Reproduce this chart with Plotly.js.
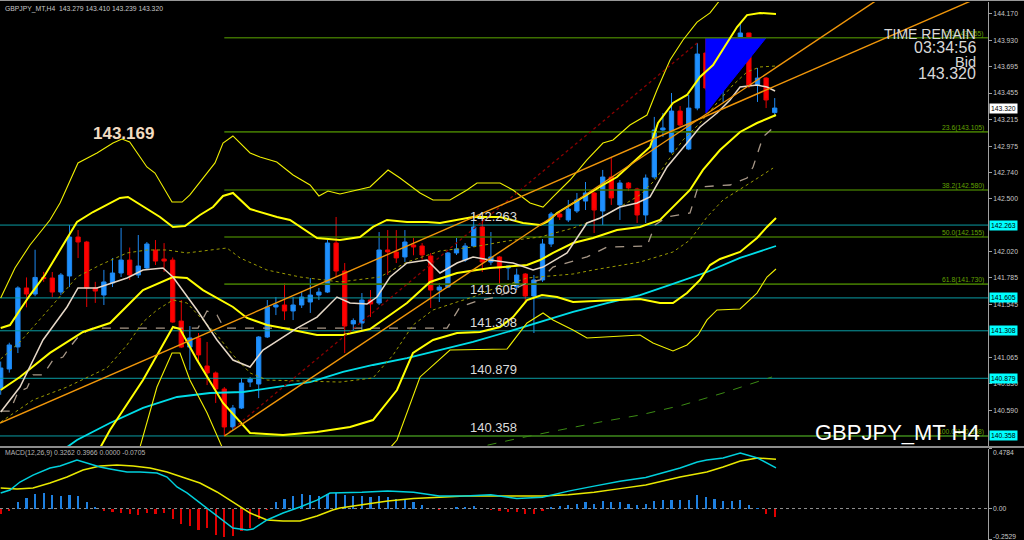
<!DOCTYPE html>
<html><head><meta charset="utf-8">
<script src="https://cdn.plot.ly/plotly-3.0.1.min.js"></script>
<style>html,body{margin:0;padding:0;background:#000;}#chart{width:1024px;height:540px;}</style>
</head><body><div id="chart"></div>
<script>
// ---------- candles (H4 bars, index 0..90) ----------
const candleIdx = [0,1,2,3,4,5,6,7,8,9,10,11,12,13,14,15,16,17,18,19,20,21,22,23,24,25,26,27,28,29,30,31,32,33,34,35,36,37,38,39,40,41,42,43,44,45,46,47,48,49,50,51,52,53,54,55,56,57,58,59,60,61,62,63,64,65,66,67,68,69,70,71,72,73,74,75,76,77,78,79,80,81,82,83,84,85,86,87,88,89,90];
const openP = [140.791,140.963,141.162,141.695,141.640,141.790,141.785,141.658,141.803,142.155,
142.110,141.695,141.631,141.740,141.830,141.947,141.812,141.875,142.038,141.956,
141.947,141.396,141.161,141.243,140.990,140.927,140.782,140.439,140.610,140.845,
140.827,141.252,141.523,141.541,141.487,141.541,141.568,141.631,141.658,142.101,
141.848,141.370,141.378,141.586,141.559,142.038,142.020,141.975,142.083,142.074,
141.984,141.676,141.703,142.011,141.947,142.074,142.246,141.929,141.975,141.875,
141.703,141.821,141.622,141.767,142.092,142.363,142.309,142.390,142.480,142.553,
142.390,142.697,142.445,142.643,142.589,142.354,142.697,143.122,142.923,143.293,
142.950,143.320,143.817,143.510,143.546,143.637,143.872,143.998,143.528,143.591,
143.279];
const highP = [141.030,141.200,141.710,141.790,142.040,141.840,141.839,141.830,142.263,142.218,
142.120,141.750,141.858,141.966,142.237,142.060,142.173,142.110,142.128,142.100,
141.970,141.586,141.351,141.288,141.207,140.940,140.800,140.638,140.880,140.890,
141.260,141.586,141.613,141.740,141.613,141.660,141.785,141.695,142.128,142.336,
141.920,141.420,141.649,141.676,142.200,142.218,142.218,142.218,142.146,142.100,
142.010,141.740,142.020,142.146,142.100,142.381,142.309,142.200,141.984,141.900,
141.870,141.830,141.812,142.137,142.381,142.390,142.490,142.553,142.652,142.562,
142.761,142.869,142.670,142.652,142.600,142.720,143.240,143.275,143.456,143.338,
143.438,143.908,143.955,143.637,143.700,143.890,144.088,144.000,143.682,143.600,
143.410];
const lowP = [140.730,140.930,141.107,141.520,141.620,141.750,141.613,141.630,141.703,141.965,
141.523,141.560,141.541,141.703,141.794,141.767,141.785,141.857,141.902,141.840,
141.380,141.152,140.954,141.017,140.818,140.656,140.358,140.410,140.601,140.800,
140.700,141.243,141.450,141.405,141.405,141.514,141.469,141.586,141.649,141.794,
141.107,141.315,141.315,141.432,141.541,141.812,141.920,141.930,141.990,141.950,
141.514,141.568,141.694,141.993,141.930,142.065,141.839,141.900,141.703,141.767,
141.676,141.568,141.288,141.750,142.065,142.309,142.290,142.372,142.399,142.191,
142.264,142.445,142.309,142.570,142.282,142.282,142.680,143.059,142.910,143.140,
142.940,143.300,143.480,143.410,143.375,143.620,143.850,143.500,143.375,143.320,
143.239];
const closeP = [140.972,141.180,141.695,141.640,141.790,141.780,141.658,141.812,142.155,142.110,
141.695,141.667,141.749,141.830,141.947,141.812,141.893,142.092,141.938,141.938,
141.387,141.161,141.243,141.090,140.927,140.782,140.439,140.610,140.836,140.872,
141.252,141.523,141.541,141.487,141.541,141.613,141.631,141.658,142.101,141.848,
141.351,141.400,141.586,141.550,142.038,142.020,141.966,142.110,142.065,141.993,
141.676,141.703,142.011,142.047,142.074,142.246,141.929,141.975,141.875,141.893,
141.812,141.622,141.767,142.092,142.363,142.336,142.408,142.490,142.553,142.399,
142.697,142.508,142.643,142.598,142.354,142.688,143.122,143.140,143.293,143.167,
143.320,143.808,143.501,143.492,143.646,143.872,143.998,143.528,143.591,143.393,
143.320];

// ---------- Bollinger bands ----------
const bbUp3X = [0,0.85,1.66,3.41,5.73,6.90,8.99,11.2,13.06,14.1,15.0,17.0,17.94,19.92,21.1,22.0,24.92,25.85,27.0,29.0,30.15,32.1,34.0,35.97,37.0,38.06,39.45,42.94,45.04,46.43,48.76,50.27,52.24,54.22,55.38,58.06,59.57,61.55,63.06,64.22,66.2,68.17,70.03,71.2,73.17,75.15,76.31,77.83,79.34,80.97,82.48,83.64,86.5,90.15];
const bbUp3Y = [141.604,141.740,141.875,142.083,142.309,142.462,142.824,142.914,143.004,143.040,143.013,142.788,142.733,142.471,142.471,142.535,142.824,143.004,143.068,142.914,142.878,142.833,142.715,142.625,142.526,142.571,142.544,142.607,142.760,142.688,142.553,142.489,142.489,142.580,142.643,142.643,142.580,142.462,142.426,142.517,142.670,142.851,143.004,143.032,143.167,143.257,143.483,143.754,143.935,144.097,144.179,144.296,144.495,144.657];
const bbUp2X = [0,1.08,2.24,3.41,5.15,6.9,8.87,10.73,13.87,14.8,17.0,18.52,20.03,21.43,23.17,24.69,25.85,27.01,29.0,30.5,32.13,33.64,35.38,36.78,39.45,41.78,43.29,44.92,47.24,49.57,51.08,53.06,54.92,58.06,59.57,60.73,62.71,63.52,64.69,66.55,68.52,70.03,71.66,73.52,75.5,76.43,78.17,79.8,81.31,82.83,84.45,85.62,86.78,88.29,90.15];
const bbUp2Y = [141.333,141.360,141.496,141.631,141.812,142.038,142.291,142.381,142.508,142.517,142.408,142.336,142.246,142.255,142.354,142.426,142.526,142.553,142.408,142.372,142.336,142.309,142.218,142.146,142.128,142.155,142.246,142.309,142.291,142.291,142.282,142.309,142.336,142.336,142.309,142.282,142.264,142.291,142.372,142.462,142.553,142.625,142.697,142.824,142.968,143.185,143.366,143.438,143.601,143.709,143.908,144.052,144.160,144.179,144.170];
const bbUp1X = [0,2.24,5.73,8.87,11.55,14.69,17.0,19.34,21.66,26.31,27.83,30.97,34.8,39.45,44.1,47.24,51.08,54.92,58.87,62.71,66.55,69.7,72.0,74.33,76.08,77.48,79.34,81.31,83.29,85.15,86.78,88.29,90.15];
const bbUp1Y = [141.053,141.207,141.514,141.794,141.902,142.011,142.038,142.038,142.011,142.056,141.966,141.857,141.794,141.749,141.794,141.929,142.029,142.065,142.119,142.155,142.236,142.327,142.426,142.535,142.670,142.833,143.032,143.185,143.366,143.528,143.646,143.691,143.700];
const bbMidX = [0,2.24,5.73,9.57,12.71,16.55,20.03,21.66,23.52,27.01,28.64,30.97,32.83,36.78,39.8,42.94,45.27,47.24,49.92,53.06,56.9,61.2,62.71,64.22,66.55,68.87,71.66,74.34,76.66,79.0,80.15,81.66,83.64,85.97,87.94,90.15];
const bbMidY = [140.773,140.891,141.108,141.297,141.378,141.676,141.794,141.785,141.676,141.523,141.424,141.361,141.333,141.270,141.270,141.324,141.451,141.559,141.749,141.830,141.875,141.902,141.947,142.011,142.101,142.146,142.218,142.246,142.309,142.489,142.580,142.761,142.941,143.104,143.185,143.257];
const bbLow1X = [0,3.76,7.71,12.36,14.69,16.55,18.17,20.03,21.66,23.17,25.15,27.01,29.0,30.97,34.8,39.45,43.29,45.62,47.94,50.27,53.06,54.92,56.9,58.87,61.2,63.52,66.55,68.87,71.66,74.34,78.17,80.15,82.13,83.99,87.13,89.81];
const bbLow1Y = [140.484,140.683,140.800,140.972,141.180,141.387,141.496,141.586,141.559,141.432,141.270,141.089,140.927,140.863,140.854,140.845,140.882,141.089,141.360,141.496,141.568,141.613,141.676,141.722,141.785,141.803,141.821,141.857,141.893,141.929,142.020,142.128,142.336,142.490,142.643,142.778];
const bbLow2X = [0,5.73,11.55,12.71,16.55,20.03,20.85,22.83,25.85,29.0,32.83,36.78,40.62,43.29,46.08,47.94,50.27,53.06,55.73,58.06,59.57,61.2,62.94,64.69,66.55,71.2,74.34,76.66,78.17,79.8,81.31,82.48,83.64,85.97,87.94,89.1,90.15];
const bbLow2Y = [140.186,140.005,140.249,140.412,140.864,141.342,141.324,141.044,140.656,140.385,140.367,140.394,140.439,140.502,140.773,141.108,141.225,141.288,141.297,141.342,141.432,141.586,141.631,141.613,141.568,141.586,141.595,141.559,141.559,141.649,141.767,141.902,141.957,142.020,142.146,142.246,142.327];
const bbLow3X = [0,6.9,12.71,16.2,18.17,19.92,20.85,22.0,23.99,25.74,27.83,34.8,39.45,43.29,46.08,48.76,52.24,58.87,61.2,63.06,64.22,66.55,68.17,70.5,74.34,75.85,78.17,79.8,81.08,82.13,83.29,85.97,87.94,89.1,90.15];
const bbLow3Y = [139.915,139.418,139.780,140.258,140.800,141.107,141.107,140.864,140.568,140.258,139.960,139.807,139.987,140.078,140.321,140.891,141.134,141.143,141.378,141.469,141.405,141.315,141.243,141.252,141.270,141.197,141.126,141.180,141.270,141.406,141.496,141.505,141.649,141.794,141.866];

// ---------- moving averages ----------
const maFastX = [0,2.24,4.92,7.71,8.99,11.2,14.69,16.55,18.87,20.03,22.83,25.15,27.01,28.99,30.5,32.83,34.45,36.78,39.1,40.62,42.59,43.76,45.27,47.24,49.57,51.08,53.06,54.92,56.9,59.57,61.9,63.06,65.85,68.17,69.7,72.0,74.0,75.5,77.48,79.8,81.31,83.29,84.8,85.97,87.94,89.1,90.04];
const maFastY = [140.574,140.800,141.225,141.523,141.695,141.695,141.785,141.857,141.875,141.794,141.496,141.225,141.044,140.981,141.134,141.252,141.333,141.432,141.613,141.559,141.550,141.613,141.794,141.920,141.947,141.830,141.920,141.975,141.947,141.920,141.857,141.884,142.011,142.282,142.327,142.426,142.462,142.517,142.788,143.004,143.149,143.275,143.393,143.510,143.528,143.510,143.474];
const kijunX = [0,1.08,2.01,3.06,3.76,4.92,6.08,7.24,8.06,8.99,10.03,10.73,22.94,23.99,25.15,25.97,51.9,52.6,53.4,55.73,57.71,61.2,62.71,64.22,68.17,70.5,75.15,76.08,77.48,80.15,81.08,84.8,86.78,87.48,88.64,89.81];
const kijunY = [140.583,140.583,140.755,140.791,140.909,140.909,141.044,141.071,141.162,141.252,141.306,141.333,141.333,141.487,141.451,141.333,141.333,141.424,141.523,141.586,141.613,141.740,141.767,141.884,141.975,142.065,142.074,142.264,142.336,142.372,142.607,142.625,142.688,142.788,143.059,143.140];
const maMidX = [6.9,8.87,12.71,16.55,20.5,24.34,28.17,32.13,35.97,39.8,43.29,47.24,51.08,54.92,58.87,62.71,66.55,70.5,74.34,78.17,82.13,85.97,90.15];
const maMidY = [140.213,140.321,140.475,140.611,140.710,140.746,140.755,140.800,140.845,140.936,140.999,141.062,141.134,141.207,141.297,141.387,141.478,141.559,141.631,141.731,141.839,141.966,142.074];
const maLongX = [54.57,60.4,65.03,69.7,74.34,79.34,83.99,89.69];
const maLongY = [140.240,140.340,140.412,140.484,140.547,140.638,140.746,140.891];

// ---------- drawn objects ----------
const trendAX = [-0.08,113.06];  const trendAY = [140.475,144.296];
const trendBX = [26,101.9];      const trendBY = [140.358,144.296];
const redDotX = [26,81];         const redDotY = [140.358,143.908];
const triX = [82,89,82,82];      const triY = [143.955,143.955,143.275,143.955];
const hLevels = [142.263,141.605,141.308,140.879,140.358];
const fibStart = 26;
const fibPct = ['0.0','23.6','38.2','50.0','61.8','100.0'];
const fibLevels = [143.955,143.105,142.580,142.155,141.730,140.358];
const highLabel = ['143.169'];
const priceTicks = [144.170,143.930,143.695,143.455,143.215,142.975,142.740,142.500,142.020,141.785,141.545,141.065,140.830,140.590];
const timeRemain = ['TIME REMAIN','03:34:56','Bid','143.320'];

// ---------- MACD(12,26,9) ----------
const macdHist = [-0.043,-0.016,0.051,0.086,0.118,0.126,0.105,0.097,0.110,0.097,
0.051,0.011,-0.021,-0.029,-0.038,-0.048,-0.056,-0.038,-0.043,-0.038,
-0.083,-0.123,-0.137,-0.172,-0.155,-0.209,-0.231,-0.217,-0.182,-0.155,
-0.083,-0.011,0.051,0.078,0.097,0.113,0.105,0.102,0.118,0.123,
0.11,0.10,0.10,0.09,0.10,0.09,0.08,0.07,0.05,0.03,
0.0,-0.01,0.0,0.01,0.01,0.02,0.0,-0.01,-0.02,-0.03,
-0.03,-0.04,-0.04,-0.02,0.01,0.02,0.03,0.04,0.05,0.04,
0.06,0.05,0.05,0.04,0.03,0.04,0.06,0.07,0.07,
0.070,0.070,0.105,0.091,0.078,0.064,0.064,0.070,0.029,0.003,-0.043,-0.0705];
const macdX = [0,1.08,2.24,3.76,5.73,6.9,8.87,10.0,11.55,12.71,14.69,16.2,18.17,19.34,20.5,21.66,24.0,25.5,27.0,28.64,29.34,30.97,32.83,34.8,36.78,38.29,39.45,42,45,48,51,54,57,60,63,66,69,72,75,79,81,82.1,84,86,88,90.15];
const macdY = [0.125,0.149,0.213,0.269,0.326,0.342,0.390,0.366,0.334,0.318,0.293,0.293,0.285,0.253,0.173,0.125,0.004,-0.076,-0.157,-0.173,-0.165,-0.092,-0.036,0.012,0.068,0.125,0.125,0.13,0.14,0.13,0.10,0.10,0.11,0.08,0.09,0.14,0.18,0.22,0.25,0.326,0.374,0.390,0.406,0.446,0.406,0.3262];
const signalX = [0,1.9,3.76,5.73,7.71,9.57,11.55,13.52,15.4,17.36,19.34,21.2,23.17,25.15,27.0,29.0,30.97,32.83,34.8,36.78,38.6,39.45,42,45,48,51,54,57,60,63,66,69,72,75,79,82.1,84,86,88,90.15];
const signalY = [0.165,0.157,0.165,0.205,0.253,0.309,0.342,0.350,0.342,0.326,0.293,0.253,0.205,0.133,0.052,-0.036,-0.092,-0.100,-0.100,-0.060,-0.012,0.004,0.03,0.06,0.08,0.09,0.10,0.10,0.10,0.10,0.11,0.13,0.16,0.19,0.253,0.293,0.334,0.382,0.406,0.3966];
const macdTicks = [0.4784,0,-0.2529];
const macdTickText = ['0.4784','0.00','-0.2529'];

// ---------- build ----------
const FONT = 'Liberation Sans, Arial, sans-serif';
const XR = [-0.08,114.8];
function ln(x,y,color,width,dash,ya){
  return {type:'scatter',mode:'lines',x:x,y:y,xaxis:ya==='y2'?'x2':'x',yaxis:ya||'y',
    line:{color:color,width:width,dash:dash||'solid',shape:'linear'},hoverinfo:'skip',showlegend:false};
}
const traces = [];
traces.push({type:'scatter',mode:'lines',x:triX,y:triY,fill:'toself',fillcolor:'#0000ff',
  line:{color:'#0000ff',width:1},hoverinfo:'skip',showlegend:false});
hLevels.forEach(v=>traces.push(ln([XR[0]-1,XR[1]+1],[v,v],'#0a9ca4',1)));
fibLevels.forEach(v=>traces.push(ln([fibStart,XR[1]+1],[v,v],'#3d6f00',1.6)));
traces.push({type:'candlestick',x:candleIdx,open:openP,high:highP,low:lowP,close:closeP,
  increasing:{line:{color:'#1e88f0',width:1},fillcolor:'#1e90ff'},
  decreasing:{line:{color:'#e80000',width:1},fillcolor:'#ff0000'},
  whiskerwidth:0,hoverinfo:'skip',showlegend:false});
traces.push(ln(maLongX,maLongY,'#3c8c14',1,'dash'));
traces.push(ln(maMidX,maMidY,'#00dde8',1.8));
traces.push(ln(kijunX,kijunY,'#a89888',1.3,'dash'));
traces.push(ln(bbUp1X,bbUp1Y,'#9a9a00',1,'dot'));
traces.push(ln(bbLow1X,bbLow1Y,'#9a9a00',1,'dot'));
traces.push(ln(bbUp3X,bbUp3Y,'#f0f000',1.1));
traces.push(ln(bbLow3X,bbLow3Y,'#f0f000',1.1));
traces.push(ln(bbUp2X,bbUp2Y,'#ffff00',2));
traces.push(ln(bbLow2X,bbLow2Y,'#ffff00',2));
traces.push(ln(bbMidX,bbMidY,'#ffff00',2));
traces.push(ln(maFastX,maFastY,'#e6d8c8',1.5));
traces.push(ln(redDotX,redDotY,'#8a0000',1.3,'dot'));
traces.push(ln(trendAX,trendAY,'#f0960a',1.4));
traces.push(ln(trendBX,trendBY,'#f0960a',1.4));
traces.push({type:'bar',x:candleIdx,y:macdHist,xaxis:'x2',yaxis:'y2',width:0.24,
  marker:{color:macdHist.map(v=>v>=0?'#1e80e0':'#e00000'),line:{width:0}},hoverinfo:'skip',showlegend:false});
traces.push(ln(signalX,signalY,'#e8e800',1.5,'solid','y2'));
traces.push(ln(macdX,macdY,'#00d0dc',1.5,'solid','y2'));

const small = {family:FONT,size:6.8,color:'#c8c8c8'};
const ann = [];
const n = candleIdx.length-1;
ann.push({xref:'paper',yref:'paper',x:0.003,y:0.9945,xanchor:'left',yanchor:'top',showarrow:false,
  text:'GBPJPY_MT,H4  '+[openP[n],highP[n],lowP[n],closeP[n]].map(v=>v.toFixed(3)).join(' '),font:small});
ann.push({xref:'x',yref:'y',x:10.5,y:143.09,xanchor:'left',yanchor:'middle',showarrow:false,
  text:'<b>'+highLabel[0]+'</b>',font:{family:FONT,size:17,color:'#f2dcc2'}});
hLevels.forEach(v=>{
  ann.push({xref:'x',yref:'y',x:54.3,y:v,xanchor:'left',yanchor:'bottom',showarrow:false,yshift:-1,
    text:v.toFixed(3),font:{family:FONT,size:13,color:'#dcdcdc'}});
  ann.push({xref:'paper',yref:'y',x:1,y:v,xanchor:'left',yanchor:'middle',xshift:1,showarrow:false,
    text:v.toFixed(3),bgcolor:'#00ffff',borderpad:1,font:{family:FONT,size:6.8,color:'#000'}});
});
fibLevels.forEach((v,i)=>{
  ann.push({xref:'paper',yref:'y',x:0.9975,y:v,xanchor:'right',yanchor:'bottom',showarrow:false,yshift:-2,
    text:fibPct[i]+'('+v.toFixed(3)+')',font:{family:FONT,size:6.8,color:'#62a000'}});
});
ann.push({xref:'paper',yref:'y',x:1,y:closeP[n],xanchor:'left',yanchor:'middle',xshift:1,showarrow:false,
  text:closeP[n].toFixed(3),bgcolor:'#ffffff',borderpad:1,font:{family:FONT,size:6.8,color:'#000'}});
const trY = [0.9370,0.9125,0.8861,0.8640], trS = [14,16,14.5,16];
timeRemain.forEach((t,i)=>ann.push({xref:'paper',yref:'paper',x:0.9899,y:trY[i],xanchor:'right',yanchor:'middle',
  showarrow:false,text:t,font:{family:FONT,size:trS[i],color:'#d8d8d8'}}));
ann.push({xref:'paper',yref:'paper',x:0.9939,y:0.200,xanchor:'right',yanchor:'middle',showarrow:false,
  text:'GBPJPY_MT H4',font:{family:FONT,size:22,color:'#ffffff'}});
ann.push({xref:'paper',yref:'paper',x:0.003,y:0.1602,xanchor:'left',yanchor:'middle',showarrow:false,
  text:'MACD(12,26,9) 0.3262 0.3966 0.0000 -0.0705',font:{family:FONT,size:6.8,color:'#b4b4b4'}});
const msh = [-4,0,3];
macdTicks.forEach((v,i)=>ann.push({xref:'paper',yref:'y2',x:1,y:v,xanchor:'left',yanchor:'middle',xshift:3,yshift:msh[i],
  showarrow:false,text:macdTickText[i],font:small}));

const layout = {
  width:1024,height:540,margin:{l:0,r:36,t:0,b:0},paper_bgcolor:'#000',plot_bgcolor:'#000',
  showlegend:false,boxgap:0.5,boxgroupgap:0,bargap:0,
  xaxis:{domain:[0,1],range:XR,visible:false,rangeslider:{visible:false},anchor:'y'},
  xaxis2:{domain:[0,1],range:XR,visible:false,anchor:'y2'},
  yaxis:{domain:[0.17407,0.9963],range:[140.2673,144.278],side:'right',anchor:'x',
    tickvals:priceTicks,ticktext:priceTicks.map(v=>v.toFixed(3)),ticks:'outside',ticklen:3,tickcolor:'#a0a0a0',
    tickfont:small,showgrid:false,zeroline:false,showline:true,linecolor:'#a0a0a0',linewidth:1},
  yaxis2:{domain:[0,0.16852],range:[-0.2529,0.4784],side:'right',anchor:'x2',
    tickvals:macdTicks,showticklabels:false,ticks:'outside',ticklen:3,tickcolor:'#a0a0a0',
    showgrid:false,zeroline:false,showline:true,linecolor:'#a0a0a0',linewidth:1},
  shapes:[
    {type:'line',xref:'paper',yref:'paper',x0:0,x1:1.04,y0:0.9991,y1:0.9991,line:{color:'#9a9a9a',width:1}},
    {type:'line',xref:'paper',yref:'paper',x0:0,x1:1.04,y0:0.17222,y1:0.17222,line:{color:'#8c8c8c',width:2}},
    {type:'line',xref:'paper',yref:'y2',x0:0,x1:1,y0:0,y1:0,layer:'below',line:{color:'#909090',width:1,dash:'dot'}}
  ],
  annotations:ann
};
Plotly.newPlot('chart',traces,layout,{staticPlot:true,displayModeBar:false});
</script></body></html>
